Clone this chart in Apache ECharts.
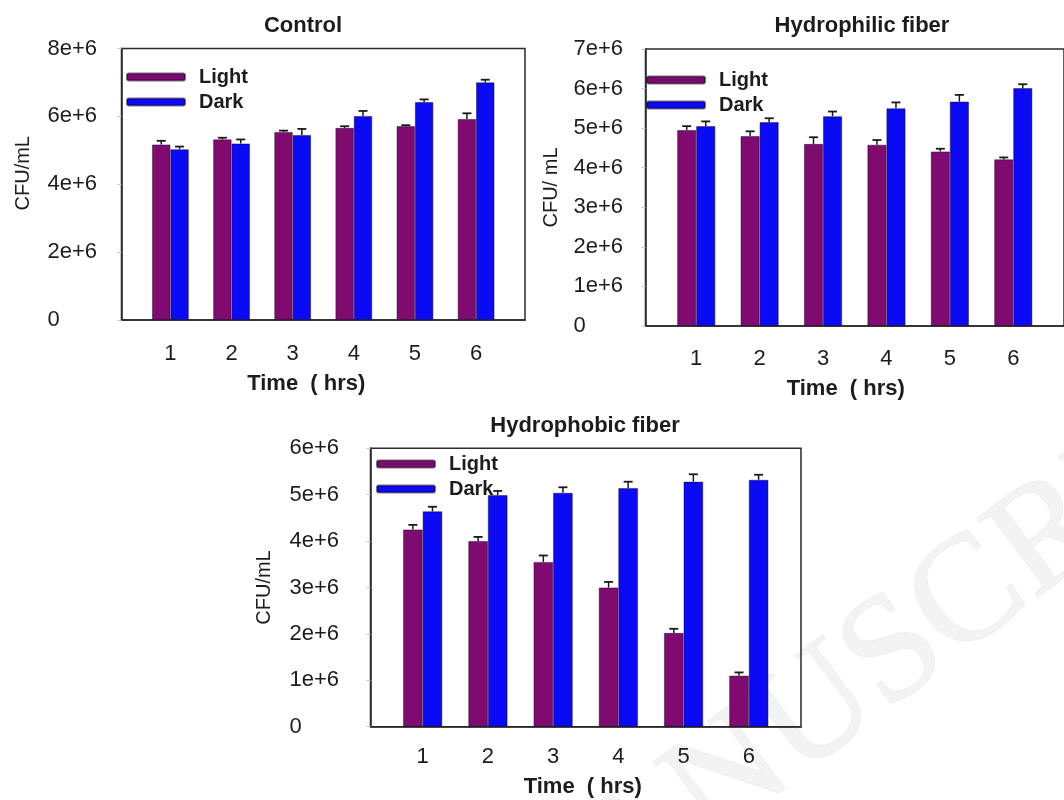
<!DOCTYPE html>
<html>
<head>
<meta charset="utf-8">
<script src="https://cdn.jsdelivr.net/npm/echarts@6/dist/echarts.min.js"></script>
<style>
html,body{margin:0;padding:0;background:#fff;}
#chart{width:1064px;height:800px;}
</style>
</head>
<body>
<div id="chart"></div>
<script>
// ---------------- data ----------------
const hours = [1, 2, 3, 4, 5, 6];
const seriesNames = ['Light', 'Dark'];
const panelTitles = ['Control', 'Hydrophilic fiber', 'Hydrophobic fiber'];
const yNames = ['CFU/mL', 'CFU/ mL', 'CFU/mL'];
const xName = 'Time  ( hrs)';
const yMax = [8e6, 7e6, 6e6];
const yStep = [2e6, 1e6, 1e6];

const controlLight    = [5.17e6, 5.32e6, 5.54e6, 5.66e6, 5.71e6, 5.92e6];
const controlLightErr = [0.11e6, 0.05e6, 0.04e6, 0.05e6, 0.03e6, 0.17e6];
const controlDark     = [5.03e6, 5.20e6, 5.45e6, 6.01e6, 6.42e6, 7.00e6];
const controlDarkErr  = [0.08e6, 0.12e6, 0.18e6, 0.15e6, 0.08e6, 0.08e6];

const philicLight     = [4.95e6, 4.80e6, 4.60e6, 4.58e6, 4.41e6, 4.21e6];
const philicLightErr  = [0.10e6, 0.12e6, 0.17e6, 0.12e6, 0.07e6, 0.05e6];
const philicDark      = [5.05e6, 5.15e6, 5.30e6, 5.50e6, 5.67e6, 6.01e6];
const philicDarkErr   = [0.12e6, 0.10e6, 0.12e6, 0.15e6, 0.17e6, 0.10e6];

const phobicLight     = [4.25e6, 4.00e6, 3.55e6, 3.00e6, 2.02e6, 1.10e6];
const phobicLightErr  = [0.10e6, 0.09e6, 0.14e6, 0.12e6, 0.09e6, 0.07e6];
const phobicDark      = [4.64e6, 4.99e6, 5.04e6, 5.14e6, 5.28e6, 5.32e6];
const phobicDarkErr   = [0.10e6, 0.09e6, 0.12e6, 0.14e6, 0.16e6, 0.11e6];

const panelData = [
  [controlLight, controlLightErr, controlDark, controlDarkErr],
  [philicLight, philicLightErr, philicDark, philicDarkErr],
  [phobicLight, phobicLightErr, phobicDark, phobicDarkErr]
];

// ---------------- layout & style ----------------
const FONT = '"Liberation Sans", Arial, Helvetica, sans-serif';
const TXT = '#1c1c1c';
const COLORS = ['#7f0a70', '#0a0af5'];
const BAR_FRAC = 0.30;   // bar width as fraction of one hour
const layout = [
  {grid: {left: 121.5, top: 48.5, width: 403.5, height: 271.5}, labelMargin: 74, nameGap: 88, namePad: [0,0,0,22],
   xNameGap: 53, xNamePad: [0,34,0,0], xLabelMargin: 23,
   title: {left: 303, top: 15}, legend: {left: 126, top: 67}},
  {grid: {left: 645.5, top: 49, width: 428, height: 277}, labelMargin: 72, nameGap: 84, namePad: [0,0,0,0],
   xNameGap: 52, xNamePad: [0,18,0,0], xLabelMargin: 22,
   title: {left: 862, top: 15}, legend: {left: 646, top: 70}},
  {grid: {left: 370.5, top: 448.3, width: 430.5, height: 278.4}, labelMargin: 81, nameGap: 96, namePad: [0,0,0,0],
   xNameGap: 49, xNamePad: [0,6,0,0], xLabelMargin: 19,
   title: {left: 585, top: 415}, legend: {left: 376, top: 454}}
];

function yFmt(v) {
  if (v === 0) return '0';
  return (v / 1e6) + 'e+6';
}

const grids = [], xAxes = [], yAxes = [], series = [], titles = [], legends = [];
layout.forEach((L, p) => {
  grids.push(Object.assign({show: true, borderColor: '#2a2a2a', borderWidth: 1.5, backgroundColor: 'transparent', containLabel: false}, L.grid));
  xAxes.push({
    type: 'value', gridIndex: p, min: 0.2, max: 6.8,
    name: xName, nameLocation: 'middle', nameGap: L.xNameGap,
    nameTextStyle: {fontFamily: FONT, fontSize: 22, fontWeight: 'bold', color: TXT, padding: L.xNamePad},
    axisLine: {show: true, lineStyle: {color: '#2a2a2a', width: 1.5}},
    axisTick: {show: false},
    splitLine: {show: false},
    axisLabel: {customValues: hours, margin: L.xLabelMargin, fontFamily: FONT, fontSize: 22, color: TXT}
  });
  yAxes.push({
    type: 'value', gridIndex: p, min: 0, max: yMax[p], interval: yStep[p],
    name: yNames[p], nameLocation: 'middle', nameGap: L.nameGap,
    nameTextStyle: {fontFamily: FONT, fontSize: 20, color: TXT, padding: L.namePad},
    axisLine: {show: true, lineStyle: {color: '#2a2a2a', width: 1.5}},
    axisTick: {show: true, length: 4, lineStyle: {color: '#c8c8c8', width: 1}},
    splitLine: {show: false},
    axisLabel: {align: 'left', margin: L.labelMargin, fontFamily: FONT, fontSize: 22, color: TXT, formatter: yFmt}
  });
  titles.push({
    text: panelTitles[p], left: L.title.left, top: L.title.top, textAlign: 'center', padding: 0,
    textStyle: {fontFamily: FONT, fontSize: 22, fontWeight: 'bold', color: TXT}
  });
  legends.push({
    left: L.legend.left, top: L.legend.top, orient: 'vertical', padding: 0,
    itemWidth: 58, itemHeight: 7, itemGap: 5, icon: 'roundRect', selectedMode: false,
    data: seriesNames,
    textStyle: {fontFamily: FONT, fontSize: 20, fontWeight: 'bold', color: TXT, padding: [0, 0, 0, 9]}
  });
  const d = panelData[p];
  [0, 1].forEach(s => {
    const vals = d[s * 2], errs = d[s * 2 + 1];
    const offset = (s === 0 ? -0.5 : 0.5) * BAR_FRAC;
    series.push({
      type: 'bar', name: seriesNames[s], xAxisIndex: p, yAxisIndex: p,
      barWidth: (BAR_FRAC * 100) + '%', barGap: '0%',
      itemStyle: {color: COLORS[s], borderColor: 'rgba(20,0,40,0.55)', borderWidth: 0.8},
      data: hours.map((h, k) => [h, vals[k]]),
      z: 2
    });
    series.push({
      type: 'custom', name: seriesNames[s] + ' error', xAxisIndex: p, yAxisIndex: p, z: 3,
      data: hours.map((h, k) => [h, vals[k], errs[k]]),
      encode: {x: 0, y: 1},
      renderItem: function (params, api) {
        const x = api.value(0), y = api.value(1), e = api.value(2);
        const base = api.coord([x + offset, y]);
        const top = api.coord([x + offset, y + e]);
        const cap = 4.5;
        return {
          type: 'group',
          children: [
            {type: 'line', shape: {x1: base[0], y1: base[1], x2: top[0], y2: top[1]}, style: {stroke: '#1a1a1a', lineWidth: 1.5}},
            {type: 'line', shape: {x1: top[0] - cap, y1: top[1], x2: top[0] + cap, y2: top[1]}, style: {stroke: '#1a1a1a', lineWidth: 1.8}}
          ]
        };
      }
    });
  });
});

// faint background watermark, as in the source image
const watermark = [{
  type: 'text', x: 490, y: 960, rotation: 37 * Math.PI / 180, z: -10, silent: true,
  style: {text: 'MANUSCRIPT', font: '152px "Liberation Serif", "Times New Roman", serif',
          fill: '#f3f3f3', stroke: '#e6e6e6', lineWidth: 1, textAlign: 'left', textVerticalAlign: 'middle'}
}];

const chart = echarts.init(document.getElementById('chart'), null, {renderer: 'canvas'});
chart.setOption({
  backgroundColor: '#ffffff',
  animation: false,
  title: titles,
  legend: legends,
  grid: grids,
  xAxis: xAxes,
  yAxis: yAxes,
  series: series,
  graphic: watermark
});
</script>
</body>
</html>
